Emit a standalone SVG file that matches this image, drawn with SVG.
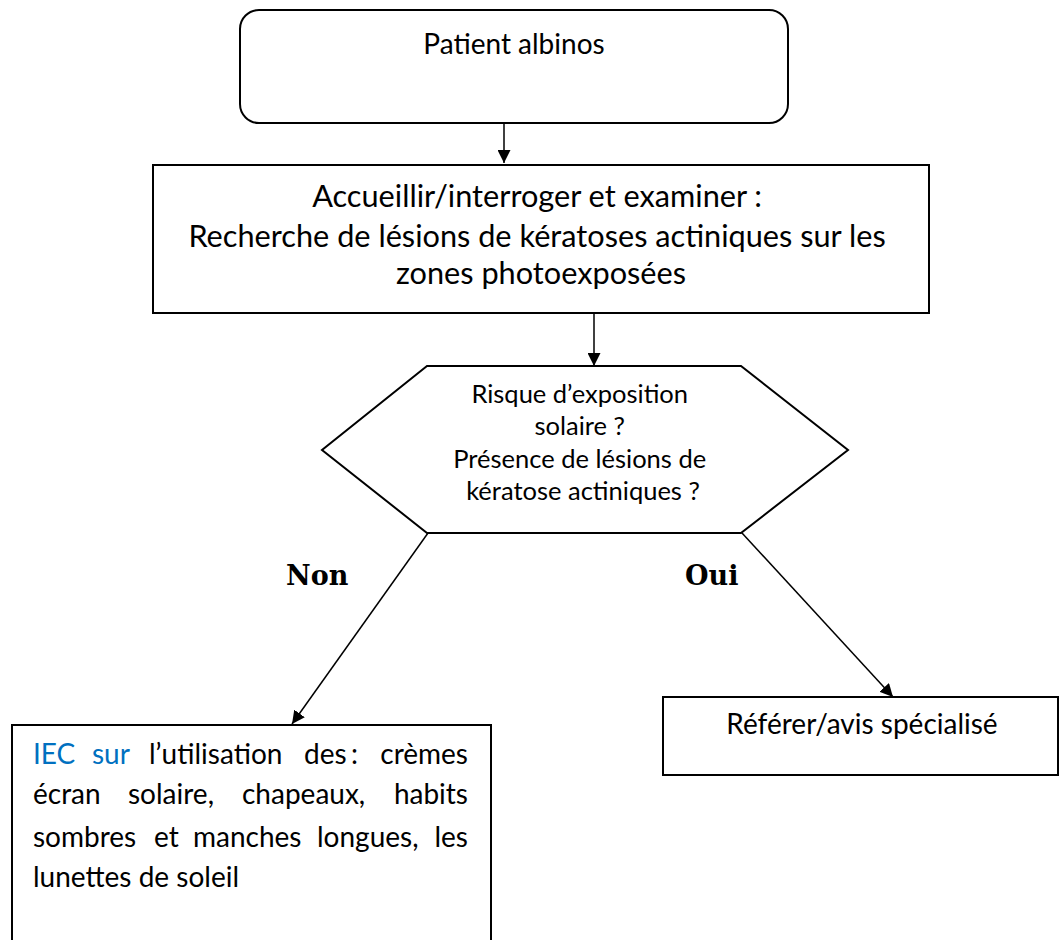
<svg xmlns="http://www.w3.org/2000/svg" width="1061" height="940" viewBox="0 0 1061 940">
  <style>
    .box { fill: #ffffff; stroke: #000000; stroke-width: 2; }
    .edge { fill: none; stroke: #000000; stroke-width: 1.5; }
    .txt { font-family: Lato, "Open Sans", sans-serif; fill: #000000; }
    .lbl { font-family: "DejaVu Serif", "Liberation Serif", serif; font-weight: bold; font-size: 27px; fill: #000000; }
    .blue { fill: #0070c0; }
  </style>
  <defs>
    <marker id="arrow" viewBox="0 0 13 13" refX="13" refY="6.5" markerWidth="13" markerHeight="13" markerUnits="userSpaceOnUse" orient="auto">
      <path d="M0,0 L13,6.5 L0,13 Z" fill="#000000"/>
    </marker>
  </defs>

  <!-- connectors -->
  <g id="connectors">
    <line class="edge" x1="504" y1="124" x2="504" y2="163" marker-end="url(#arrow)"/>
    <line class="edge" x1="594" y1="314" x2="594" y2="366" marker-end="url(#arrow)"/>
    <line class="edge" x1="428" y1="533" x2="292" y2="724" marker-end="url(#arrow)"/>
    <line class="edge" x1="742" y1="533" x2="893" y2="697" marker-end="url(#arrow)"/>
  </g>

  <!-- start node -->
  <g id="start">
    <rect class="box" x="240" y="10" width="548" height="113" rx="19" ry="19"/>
    <text class="txt" x="514" y="54" font-size="28" text-anchor="middle">Patient albinos</text>
  </g>

  <!-- examination step -->
  <g id="examine">
    <rect class="box" x="153" y="165" width="776" height="148"/>
    <text class="txt" font-size="30.7" text-anchor="middle">
      <tspan x="541" y="207">Accueillir/interroger et examiner :</tspan>
      <tspan x="541" y="247">Recherche de lésions de kératoses actiniques sur les</tspan>
      <tspan x="541" y="284">zones photoexposées</tspan>
    </text>
  </g>

  <!-- decision -->
  <g id="decision">
    <polygon class="box" points="427,366 741,366 848,450 741,533 427,533 322,450"/>
    <text class="txt" font-size="25.5" text-anchor="middle">
      <tspan x="583" y="403">Risque d’exposition</tspan>
      <tspan x="583" y="435">solaire ?</tspan>
      <tspan x="583" y="468">Présence de lésions de</tspan>
      <tspan x="583" y="500">kératose actiniques ?</tspan>
    </text>
  </g>

  <!-- branch labels -->
  <g id="labels">
    <text class="lbl" x="286" y="585">Non</text>
    <text class="lbl" x="685" y="585">Oui</text>
  </g>

  <!-- advice node -->
  <g id="advice">
    <rect class="box" x="12" y="725" width="479" height="230"/>
    <g class="txt" font-size="28">
      <text x="33" y="764" class="blue">IEC</text>
      <text x="92" y="764" class="blue">sur</text>
      <text x="149" y="764">l’utilisation</text>
      <text x="304" y="764">des</text>
      <text x="351" y="764">:</text>
      <text x="468" y="764" text-anchor="end">crèmes</text>

      <text x="33" y="804">écran</text>
      <text x="128" y="804">solaire,</text>
      <text x="242" y="804">chapeaux,</text>
      <text x="468" y="804" text-anchor="end">habits</text>

      <text x="33" y="847">sombres</text>
      <text x="154" y="847">et</text>
      <text x="193" y="847">manches</text>
      <text x="317" y="847">longues,</text>
      <text x="468" y="847" text-anchor="end">les</text>

      <text x="33" y="887">lunettes de soleil</text>
    </g>
  </g>

  <!-- referral node -->
  <g id="referral">
    <rect class="box" x="663" y="697" width="395" height="78"/>
    <text class="txt" x="862" y="734" font-size="28" text-anchor="middle">Référer/avis spécialisé</text>
  </g>
</svg>
